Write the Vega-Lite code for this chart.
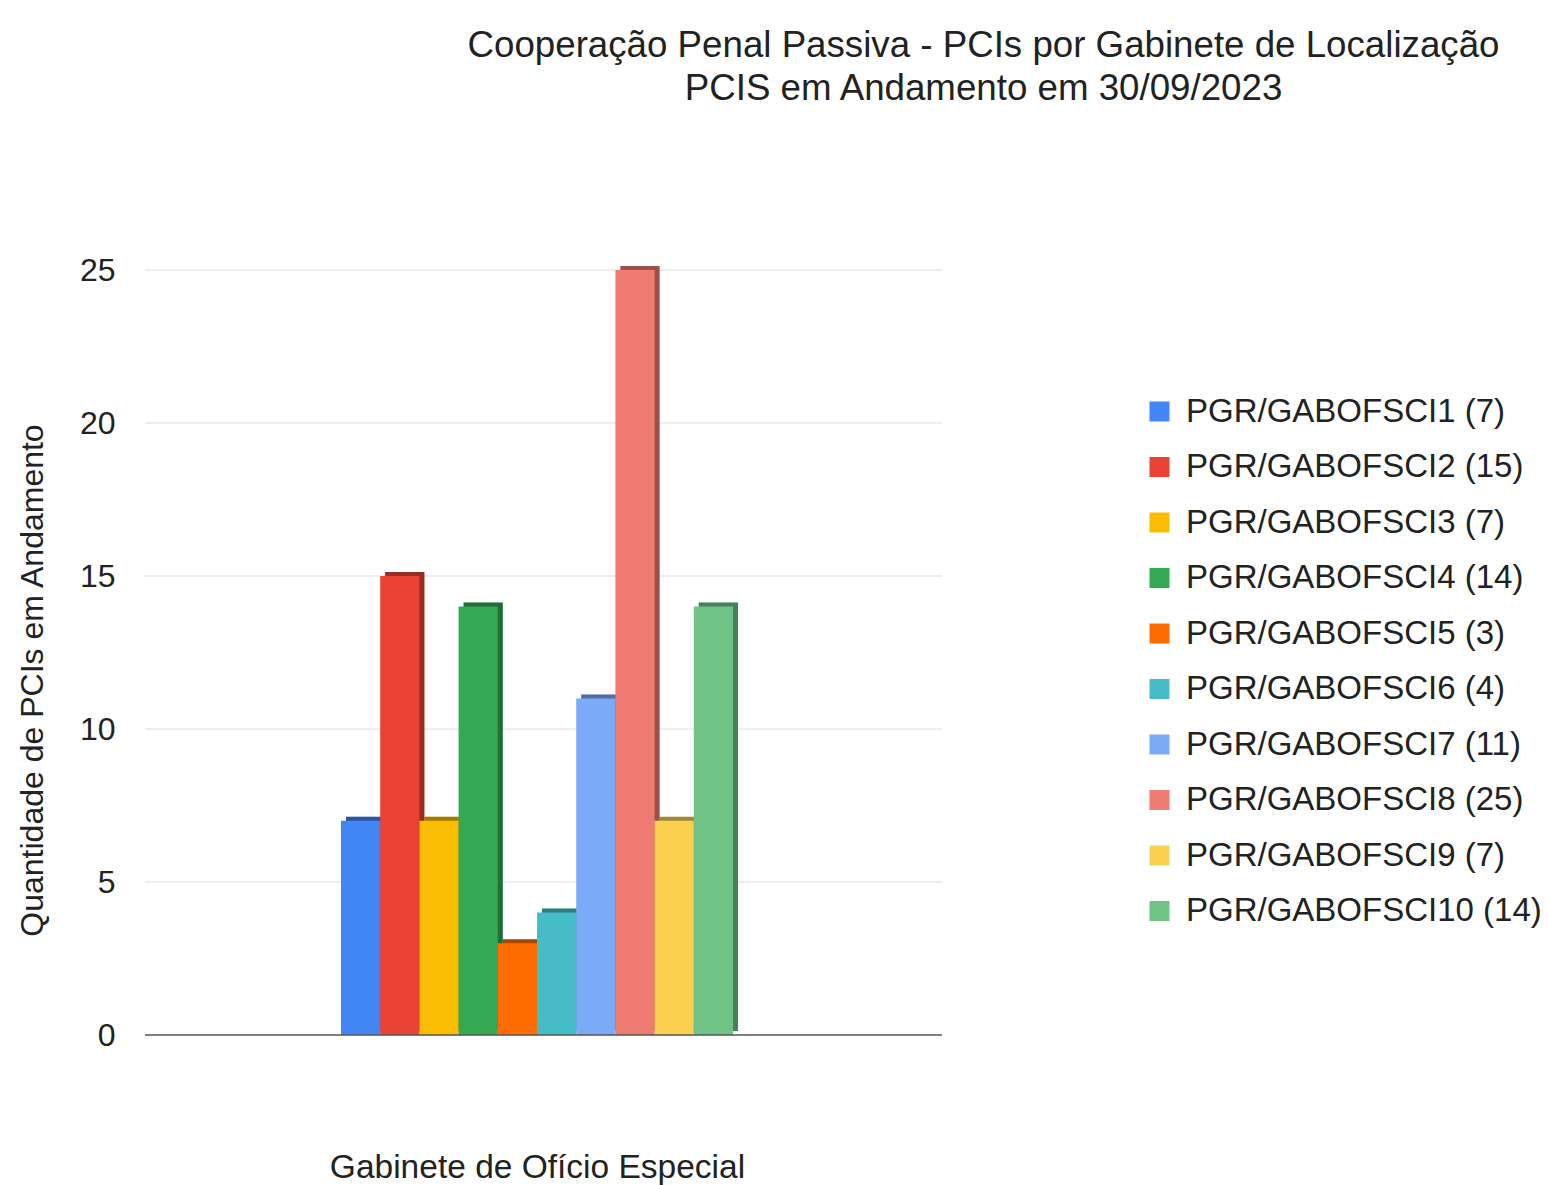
{
  "$schema": "https://vega.github.io/schema/vega-lite/v6.json",
  "width": 797,
  "height": 765,
  "autosize": {"type": "none"},
  "padding": {"left": 145, "top": 270, "right": 606, "bottom": 150},
  "background": "white",
  "view": {"stroke": null},
  "title": {
    "text": ["Cooperação Penal Passiva - PCIs por Gabinete de Localização", "PCIS em Andamento em 30/09/2023"],
    "anchor": "middle",
    "frame": "group",
    "dx": 440,
    "offset": 146,
    "font": "Liberation Sans",
    "fontSize": 36.7,
    "fontWeight": "normal",
    "lineHeight": 43,
    "color": "#222222"
  },
  "datasets": {
    "gabinetes": [
      {"gabinete": "PGR/GABOFSCI1 (7)", "ordem": 1, "pcis": 7},
      {"gabinete": "PGR/GABOFSCI2 (15)", "ordem": 2, "pcis": 15},
      {"gabinete": "PGR/GABOFSCI3 (7)", "ordem": 3, "pcis": 7},
      {"gabinete": "PGR/GABOFSCI4 (14)", "ordem": 4, "pcis": 14},
      {"gabinete": "PGR/GABOFSCI5 (3)", "ordem": 5, "pcis": 3},
      {"gabinete": "PGR/GABOFSCI6 (4)", "ordem": 6, "pcis": 4},
      {"gabinete": "PGR/GABOFSCI7 (11)", "ordem": 7, "pcis": 11},
      {"gabinete": "PGR/GABOFSCI8 (25)", "ordem": 8, "pcis": 25},
      {"gabinete": "PGR/GABOFSCI9 (7)", "ordem": 9, "pcis": 7},
      {"gabinete": "PGR/GABOFSCI10 (14)", "ordem": 10, "pcis": 14}
    ],
    "grade": [
      {"nivel": 5}, {"nivel": 10}, {"nivel": 15}, {"nivel": 20}, {"nivel": 25}
    ],
    "base": [
      {"nivel": 0}
    ]
  },
  "layer": [
    {
      "data": {"name": "grade"},
      "mark": {"type": "rule", "color": "#dddddd", "strokeWidth": 1},
      "encoding": {
        "y": {
          "field": "nivel",
          "type": "quantitative",
          "scale": {"domain": [0, 25], "nice": false},
          "axis": {
            "title": "Quantidade de PCIs em Andamento",
            "values": [0, 5, 10, 15, 20, 25],
            "ticks": false,
            "domain": false,
            "grid": false,
            "labelFont": "Liberation Sans",
            "labelFontSize": 32,
            "labelColor": "#222222",
            "labelPadding": 30,
            "titleFont": "Liberation Sans",
            "titleFontSize": 32,
            "titleFontWeight": "normal",
            "titleColor": "#222222",
            "titlePadding": 30,
            "titleY": 410
          }
        }
      }
    },
    {
      "data": {"name": "gabinetes"},
      "encoding": {
        "x": {
          "field": "gabinete",
          "type": "nominal",
          "sort": {"field": "ordem"},
          "scale": {"paddingInner": 0, "paddingOuter": 0, "range": [196, 588]},
          "axis": {
            "title": "Gabinete de Ofício Especial",
            "labels": false,
            "ticks": false,
            "domain": false,
            "titleFont": "Liberation Sans",
            "titleFontSize": 33.5,
            "titleFontWeight": "normal",
            "titleColor": "#222222",
            "titlePadding": 116,
            "titleX": 392
          }
        },
        "y": {"field": "pcis", "type": "quantitative"},
        "color": {
          "field": "gabinete",
          "type": "nominal",
          "sort": {"field": "ordem"},
          "scale": {
            "range": ["#4285F4", "#EA4335", "#FBBC04", "#34A853", "#FF6D01", "#46BDC6", "#7BAAF7", "#F07B72", "#FCD04F", "#71C287"]
          },
          "legend": {
            "title": null,
            "orient": "none",
            "legendX": 998,
            "legendY": 125,
            "symbolType": "square",
            "symbolSize": 400,
            "symbolStrokeWidth": 0,
            "symbolOpacity": 1,
            "labelFont": "Liberation Sans",
            "labelFontSize": 33,
            "labelColor": "#222222",
            "labelOffset": 10,
            "labelLimit": 500,
            "rowPadding": 21.5
          }
        }
      },
      "layer": [
        {
          "mark": {"type": "bar", "xOffset": 5, "yOffset": -4}
        },
        {
          "mark": {"type": "bar", "xOffset": 5, "yOffset": -4, "opacity": 0.35},
          "encoding": {"color": {"value": "black"}}
        },
        {
          "mark": {"type": "bar"}
        }
      ]
    },
    {
      "data": {"name": "base"},
      "mark": {"type": "rule", "color": "#555555", "strokeWidth": 1.5},
      "encoding": {"y": {"field": "nivel", "type": "quantitative"}}
    }
  ]
}
